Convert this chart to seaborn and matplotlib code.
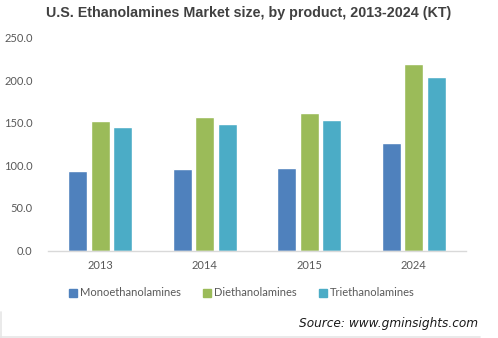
import matplotlib
matplotlib.use("Agg")
import matplotlib.pyplot as plt
from matplotlib.lines import Line2D
import seaborn as sns
import pandas as pd

years = ["2013", "2014", "2015", "2024"]
products = ["Monoethanolamines", "Diethanolamines", "Triethanolamines"]
mono = [93.0, 95.3, 97.6, 126.0]
di = [152.2, 157.0, 161.7, 219.8]
tri = [145.0, 148.6, 153.4, 204.4]
colors = ["#4F81BD", "#9BBB59", "#4BACC6"]
yticks = [0, 50, 100, 150, 200, 250]

rows = []
for name, vals in zip(products, [mono, di, tri]):
    for yr, v in zip(years, vals):
        rows.append({"year": yr, "product": name, "value": v})
df = pd.DataFrame(rows)

sns.set_theme(style="white")
plt.rcParams["font.family"] = ["Lato", "DejaVu Sans"]

fig = plt.figure(figsize=(4.98, 3.38), dpi=100)
ax = fig.add_axes([48 / 498, 1 - 250.5 / 338, 418 / 498, 212.5 / 338])

sns.barplot(data=df, x="year", y="value", hue="product", order=years,
            hue_order=products, palette=colors, width=0.64, gap=0.15,
            saturation=1, errorbar=None, ax=ax, legend=False)

ax.set_ylim(0, 250)
ax.set_xlim(-0.5, 3.5)
ax.set_yticks(yticks)
ax.set_yticklabels([f"{t:.1f}" for t in yticks])
ax.set_xlabel("")
ax.set_ylabel("")
for s in ["top", "right", "left"]:
    ax.spines[s].set_visible(False)
ax.spines["bottom"].set_color("#D9D9D9")
ax.spines["bottom"].set_linewidth(1.0)
ax.tick_params(axis="both", length=0, labelsize=8, labelcolor="#595959")
ax.tick_params(axis="y", pad=11)
ax.tick_params(axis="x", pad=7)

fig.text(0.5, 1 - 13 / 338, "U.S. Ethanolamines Market size, by product, 2013-2024 (KT)",
         ha="center", va="center", fontsize=10.3, fontweight="bold",
         color="#404040", family=["Liberation Sans", "DejaVu Sans"])

handles = [plt.Rectangle((0, 0), 1, 1, color=c) for c in colors]
fig.legend(handles, products, loc="center", bbox_to_anchor=(242 / 498, 1 - 293 / 338),
           ncol=3, frameon=False, fontsize=8, handlelength=0.7, handleheight=0.7,
           handletextpad=0.3, columnspacing=2.0, labelcolor="#595959")

# source footer box
fig.add_artist(Line2D([1 / 498, 1 / 498], [0, 1 - 312 / 338], transform=fig.transFigure,
                      color="#E6E6E6", lw=1.2))
fig.add_artist(Line2D([0, 480 / 498], [1 / 338, 1 / 338], transform=fig.transFigure,
                      color="#E6E6E6", lw=1.2))
fig.text(478 / 498, 1 - 323 / 338, "Source: www.gminsights.com", ha="right", va="center",
         fontsize=8.7, style="italic", color="#1a1a1a", family=["DejaVu Sans"])

fig.savefig("out.png", dpi=100, facecolor="white")
